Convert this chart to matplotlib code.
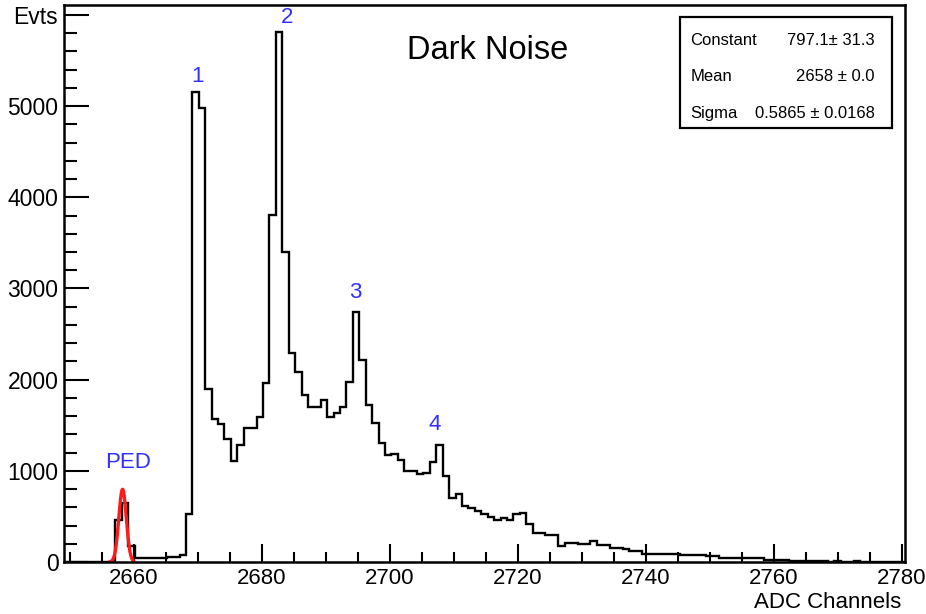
import matplotlib
matplotlib.use("Agg")
import matplotlib.pyplot as plt
import numpy as np
from matplotlib.patches import Rectangle
from matplotlib.ticker import MultipleLocator

plt.rcParams["font.family"] = ["Liberation Sans", "DejaVu Sans"]

# ADC channel histogram, one count per 1-channel bin starting at 2649
first_channel = 2649
counts = (
    [0] * 8                                                   # 2649-2656
    + [458, 652, 176, 47, 45, 45, 45, 45, 55, 55, 77, 530]    # 2657-2668
    + [5150, 4981, 1898, 1568, 1513, 1348, 1110, 1286, 1469, 1469]  # 2669-2678
    + [1586, 1959, 3802, 5810, 3399, 2289, 2088, 1835, 1696, 1696]  # 2679-2688
    + [1777, 1586, 1630, 1696, 1978, 2747, 2216, 1725, 1524, 1300]  # 2689-2698
    + [1173, 1184, 1118, 1000, 1000, 964, 981, 1102, 1286, 940]     # 2699-2708
    + [698, 744, 615, 590, 560, 524, 495, 458, 480, 458]            # 2709-2718
    + [527, 538, 421, 322, 322, 297, 297, 176, 212, 212]            # 2719-2728
    + [201, 201, 231, 187, 183, 157, 157, 140, 121, 121]            # 2729-2738
    + [91, 91, 91, 91, 91, 91, 77, 81, 77, 77]                      # 2739-2748
    + [70, 66, 47, 47, 47, 47, 44, 44, 40, 19]                      # 2749-2758
    + [19, 19, 26]                                                  # 2759-2761
    + [10, 8, 10, 6, 8, 6, 5, 8, 5, 4, 6, 4, 3, 5, 3, 4, 3, 2]      # 2762-2779
)
assert len(counts) == 131

# pedestal gaussian fit (stats box values)
fit_constant = 797.1
fit_mean = 2658.25
fit_sigma = 0.5865
fit_range = (2656.3, 2659.9)

stats_rows = [
    ("Constant", "797.1\u00b1 31.3"),
    ("Mean", "2658 \u00b1 0.0"),
    ("Sigma", "0.5865 \u00b1 0.0168"),
]

# peak annotations: label, channel, height
peak_labels = ["PED", "1", "2", "3", "4"]
peak_x = [2659.1, 2669.9, 2684.0, 2694.6, 2707.0]
peak_y = [1090, 5330, 5970, 2960, 1510]

y_ticks = [0, 1000, 2000, 3000, 4000, 5000, 6000]
y_ticklabels = ["0", "1000", "2000", "3000", "4000", "5000", ""]

fig = plt.figure(figsize=(9.26, 6.14), dpi=100)
ax = fig.add_axes([0.0691, 0.0847, 0.9082, 0.9072])

edges = np.linspace(2649.1, 2780.5, len(counts) + 1)
ax.stairs(counts, edges, color="black", linewidth=1.7)

xf = np.linspace(fit_range[0], fit_range[1], 200)
yf = fit_constant * np.exp(-0.5 * ((xf - fit_mean) / fit_sigma) ** 2)
ax.plot(xf, yf, color="#ff1a1a", linewidth=2.4)

for lab, px, py in zip(peak_labels, peak_x, peak_y):
    ax.text(px, py, lab, color="#3030ff", fontsize=16, ha="center", va="center")

ax.set_xlim(2649.1, 2780.5)
ax.set_ylim(0, 6110)
ax.set_xticks(np.arange(2660, 2781, 20))
ax.xaxis.set_minor_locator(MultipleLocator(5))
ax.set_yticks(y_ticks)
ax.set_yticklabels(y_ticklabels)
ax.yaxis.set_minor_locator(MultipleLocator(200))
ax.tick_params(which="both", direction="in", top=False, right=False,
               labelsize=16.5, width=1.5)
ax.tick_params(axis="x", labelsize=16)
ax.tick_params(axis="y", which="major", length=18, pad=4)
ax.tick_params(axis="y", which="minor", length=9)
ax.tick_params(axis="x", which="major", length=13, pad=4)
ax.tick_params(axis="x", which="minor", length=7)
for sp in ax.spines.values():
    sp.set_linewidth(1.8)

ax.text(0.504, 0.919, "Dark Noise", transform=ax.transAxes, fontsize=23.5,
        ha="center", va="center")

fig.text(58 / 926, 1 - 18 / 614, "Evts", fontsize=16.5, ha="right", va="center")
fig.text(901 / 926, 1 - 603 / 614, "ADC Channels", fontsize=16,
         ha="right", va="center")

# stats box
ax.add_patch(Rectangle((0.7325, 0.7786), 0.2515, 0.2004, transform=ax.transAxes,
                       facecolor="white", edgecolor="black", linewidth=1.6,
                       zorder=5))
for i, (name, val) in enumerate(stats_rows):
    yy = 0.936 - i * 0.0653
    ax.text(0.745, yy, name, transform=ax.transAxes, fontsize=12,
            ha="left", va="center", zorder=6)
    ax.text(0.9643, yy, val, transform=ax.transAxes, fontsize=12,
            ha="right", va="center", zorder=6)

fig.savefig("out.png", dpi=100)
